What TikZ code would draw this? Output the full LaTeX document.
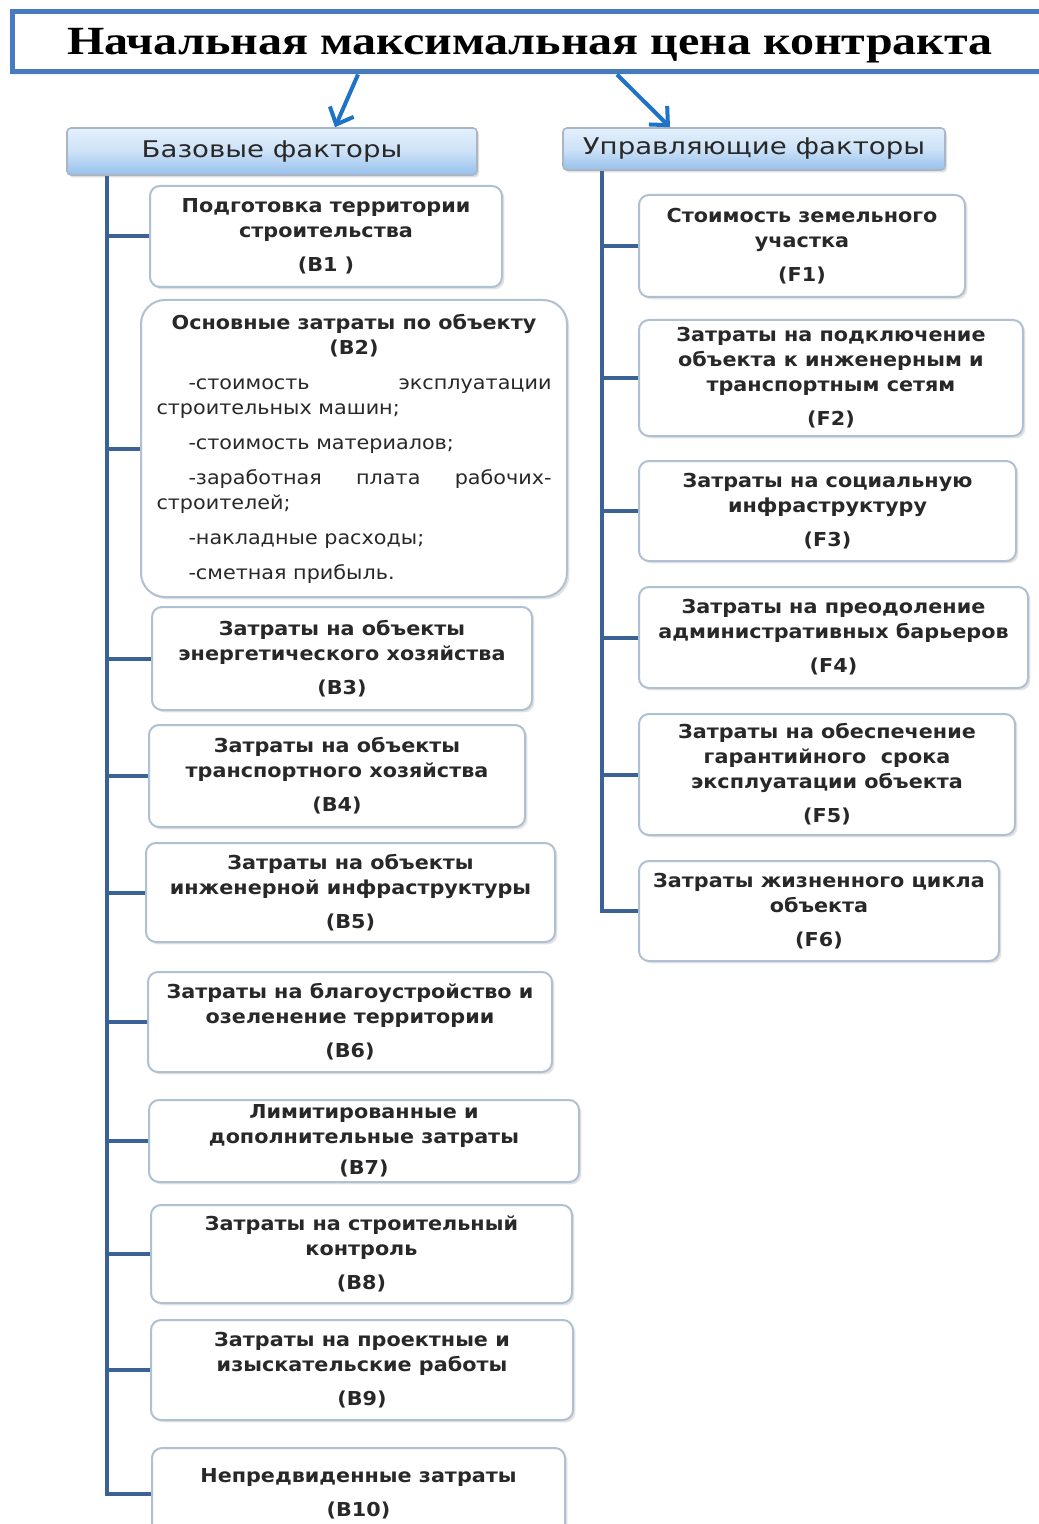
\documentclass[tikz,border=0pt]{standalone}
\usepackage{fontspec}
\usetikzlibrary{arrows.meta,shadows}
\newfontfamily\bxfont[FakeStretch=1.08]{DejaVu Sans}
\newfontfamily\hdfont[FakeStretch=1.2]{DejaVu Sans}
\newfontfamily\ttlfont[FakeStretch=1.2]{Liberation Serif}
\definecolor{boxborder}{RGB}{175,192,210}
\definecolor{textcol}{RGB}{40,40,40}
\definecolor{trunkc}{RGB}{58,98,148}
\definecolor{arrc}{RGB}{30,115,200}
\definecolor{ttlborder}{RGB}{72,122,190}
\definecolor{hdtop}{RGB}{228,240,252}
\definecolor{hdbot}{RGB}{150,192,235}
\definecolor{hdborder}{RGB}{170,182,195}
\newlength{\lw}
\setlength{\lw}{197.5pt}
\newcommand{\li}[1]{\makebox[\lw][l]{\mdseries #1}}
\tikzset{
  bx/.style={draw=boxborder, line width=1pt, rounded corners=5pt, fill=white,
    align=center, text=textcol, inner sep=1pt,
    font=\bxfont\fontsize{9.6}{12.5}\selectfont\bfseries,
    drop shadow={opacity=0.22, shadow xshift=1.2pt, shadow yshift=-1.2pt}},
  hdbox/.style={draw=hdborder, line width=0.8pt, rounded corners=2pt,
    top color=hdtop, bottom color=hdbot, middle color=hdtop!70!hdbot,
    text=textcol, font=\hdfont\fontsize{11.5}{13}\selectfont,
    drop shadow={opacity=0.25, shadow xshift=1pt, shadow yshift=-1.2pt}},
  trunk/.style={draw=trunkc, line width=2pt},
  arr/.style={draw=arrc, line width=2pt, -{Straight Barb[length=7pt,width=13pt]}},
}
\newcommand{\gap}{\\[4.5pt]}
\begin{document}
\begin{tikzpicture}[x=0.5pt,y=-0.5pt]
\useasboundingbox (0,0) rectangle (1038,1524);
\fill[white] (0,0) rectangle (1038,1524);

% title
\node[draw=ttlborder, line width=2.5pt, fill=white, minimum width=519pt, minimum height=30pt,
  drop shadow={opacity=0.2, shadow xshift=0pt, shadow yshift=-1.5pt, fill=arrc!40}]
  (title) at (531,42) {};
\node[font=\ttlfont\fontsize{20}{22}\selectfont\bfseries, text=black] (ttltext) at (530,46)
  {Начальная максимальная цена контракта};

% headers
\node[hdbox, minimum width=205pt, minimum height=23.5pt] (hb) at (272,151.5) {Базовые факторы};
\node[hdbox, minimum width=191pt, minimum height=21pt] (hu) at (754,149) {Управляющие факторы};

% arrows
\draw[arr] (title.south -| 358,0) -- (hb.north -| 335,0);
\draw[arr] (title.south -| 617,0) -- (hu.north -| 670,0);

% left boxes
\node[bx, minimum width=176pt, minimum height=50.5pt] (b1) at (326,236.5)
  {Подготовка территории\\строительства\gap(B1 )};
\node[bx, rounded corners=12pt, minimum width=213pt, minimum height=148.5pt] (b2) at (354,448.5)
  {Основные затраты по объекту\\(B2)\\[5pt]
   \li{\hspace{16pt}-стоимость\hfill эксплуатации}\\
   \li{строительных машин;}\\[5pt]
   \li{\hspace{16pt}-стоимость материалов;}\\[5pt]
   \li{\hspace{16pt}-заработная\hfill плата\hfill рабочих-}\\
   \li{строителей;}\\[5pt]
   \li{\hspace{16pt}-накладные расходы;}\\[5pt]
   \li{\hspace{16pt}-сметная прибыль.}};
\node[bx, minimum width=190pt, minimum height=51.5pt] (b3) at (342,658.5)
  {Затраты на объекты\\энергетического хозяйства\gap(B3)};
\node[bx, minimum width=188pt, minimum height=51pt] (b4) at (337,776)
  {Затраты на объекты\\транспортного хозяйства\gap(B4)};
\node[bx, minimum width=204.5pt, minimum height=49.5pt] (b5) at (350.5,892.5)
  {Затраты на объекты\\инженерной инфраструктуры\gap(B5)};
\node[bx, minimum width=202pt, minimum height=50pt] (b6) at (350,1022)
  {Затраты на благоустройство и\\озеленение территории\gap(B6)};
\node[bx, minimum width=215pt, minimum height=41pt] (b7) at (364,1141)
  {Лимитированные и\\дополнительные затраты\\[3pt](B7)};
\node[bx, minimum width=210.5pt, minimum height=49pt] (b8) at (361.5,1254)
  {Затраты на строительный\\контроль\gap(B8)};
\node[bx, minimum width=211pt, minimum height=50pt] (b9) at (362,1370)
  {Затраты на проектные и\\изыскательские работы\gap(B9)};
\node[bx, minimum width=206.5pt, minimum height=46pt] (b10) at (358.5,1494)
  {Непредвиденные затраты\gap(B10)};

% right boxes
\node[bx, minimum width=163pt, minimum height=51pt] (f1) at (802,246)
  {Стоимость земельного\\участка\gap(F1)};
\node[bx, minimum width=192pt, minimum height=58pt] (f2) at (831,378)
  {Затраты на подключение\\объекта к инженерным и\\транспортным сетям\gap(F2)};
\node[bx, minimum width=188.5pt, minimum height=50pt] (f3) at (827.5,511)
  {Затраты на социальную\\инфраструктуру\gap(F3)};
\node[bx, minimum width=194.5pt, minimum height=50.5pt] (f4) at (833.5,637.5)
  {Затраты на преодоление\\административных барьеров\gap(F4)};
\node[bx, minimum width=188pt, minimum height=60.5pt] (f5) at (827,774.5)
  {Затраты на обеспечение\\гарантийного\ \ срока\\эксплуатации объекта\gap(F5)};
\node[bx, minimum width=180pt, minimum height=50pt] (f6) at (819,911)
  {Затраты жизненного цикла\\объекта\gap(F6)};

% trunks
\coordinate (lt) at (hb.south -| 107,0);
\coordinate (rt) at (hu.south -| 602,0);
\draw[trunk] (lt) |- (b10.west);
\foreach \n in {b1,b2,b3,b4,b5,b6,b7,b8,b9}
  \draw[trunk] (lt |- \n.west) -- (\n.west);
\draw[trunk] (rt) |- (f6.west);
\foreach \n in {f1,f2,f3,f4,f5}
  \draw[trunk] (rt |- \n.west) -- (\n.west);
\end{tikzpicture}
\end{document}
